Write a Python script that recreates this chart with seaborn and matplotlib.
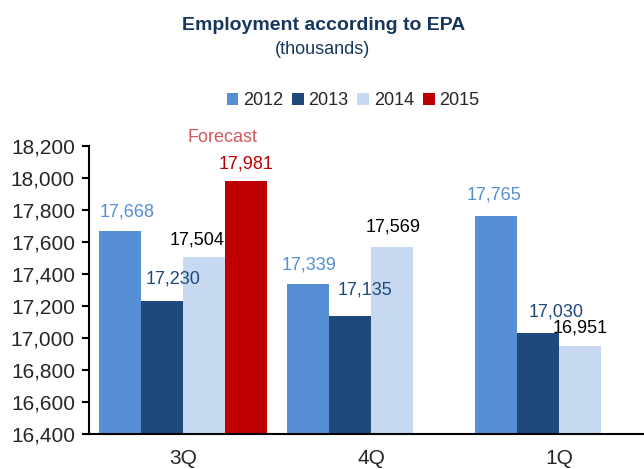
import matplotlib
matplotlib.use('Agg')
import matplotlib.pyplot as plt
import seaborn as sns
import pandas as pd
from matplotlib.patches import Patch

# 数据
quarters = ['3Q', '4Q', '1Q']
years = ['2012', '2013', '2014', '2015']
values_2012 = [17668, 17339, 17765]
values_2013 = [17230, 17135, 17030]
values_2014 = [17504, 17569, 16951]
values_2015 = [17981]  # 只有3Q有预测值
y_ticks = list(range(16400, 18201, 200))

colors = {'2012': '#558ED5', '2013': '#1F497D', '2014': '#C6D9F1', '2015': '#C00000'}
label_colors = {'2012': '#558ED5', '2013': '#1F497D', '2014': '#000000', '2015': '#C00000'}

rows = []
for yr, vals in zip(years, [values_2012, values_2013, values_2014, values_2015]):
    for q, v in zip(quarters, vals):
        rows.append({'quarter': q, 'year': yr, 'value': v})
df = pd.DataFrame(rows)

sns.set_style('white')
plt.rcParams['font.family'] = ['Liberation Sans', 'DejaVu Sans']

fig = plt.figure(figsize=(6.44, 4.69), dpi=100)
ax = fig.add_axes([0.138, 0.0746, 0.862, 0.614])

sns.barplot(data=df, x='quarter', y='value', hue='year', order=quarters,
            hue_order=years, palette=colors, saturation=1, width=0.894,
            linewidth=0, dodge=True, ax=ax, legend=False)

ax.set_ylim(16400, 18200)
ax.set_xlim(-0.5, 2.452)
ax.set_yticks(y_ticks)
ax.set_yticklabels([f'{t:,}' for t in y_ticks], fontsize=15)
ax.set_xlabel('')
ax.set_ylabel('')
ax.tick_params(axis='x', which='major', length=0, labelsize=15, pad=11)
ax.set_xticks([0.5, 1.5], minor=True)
ax.tick_params(axis='x', which='minor', length=6, width=1.5, direction='out', color='black')
ax.tick_params(axis='y', length=5, width=1.5, direction='out', color='black', pad=5, left=True)
for s in ['top', 'right']:
    ax.spines[s].set_visible(False)
for s in ['left', 'bottom']:
    ax.spines[s].set_color('black')
    ax.spines[s].set_linewidth(1.5)

# 数据标签偏移 (像素)
offsets = {
    '2012': [(7, 19), (1, 19), (-2, 21)],
    '2013': [(11, 22), (15, 26), (18, 21)],
    '2014': [(-7, 17), (1, 20), (0, 18)],
    '2015': [(0, 17)],
}
for yr, cont in zip(years, ax.containers):
    for bar, (dx, dy) in zip(cont, offsets[yr]):
        h = bar.get_height()
        xc = bar.get_x() + bar.get_width() / 2
        ax.annotate(f'{int(h):,}', (xc, h), xytext=(dx, dy), textcoords='offset pixels',
                    ha='center', va='center', fontsize=13, color=label_colors[yr],
                    annotation_clip=False)
        if yr == '2015':
            ax.annotate('Forecast', (xc, h), xytext=(-23, 44), textcoords='offset pixels',
                        ha='center', va='center', fontsize=13, color='#D0585A',
                        annotation_clip=False)

# 标题
fig.text(0.503, 0.945, 'Employment according to EPA', ha='center', va='center',
         fontsize=14, fontweight='bold', color='#17375E')
fig.text(0.5, 0.895, '(thousands)', ha='center', va='center', fontsize=13, color='#17375E')

handles = [Patch(facecolor=colors[y], edgecolor='none') for y in years]
fig.legend(handles, years, loc='center', bbox_to_anchor=(0.548, 0.785), ncol=4,
           frameon=False, fontsize=13, handlelength=0.65, handleheight=0.65,
           handletextpad=0.25, columnspacing=0.5)

plt.savefig('out.png', dpi=100)
